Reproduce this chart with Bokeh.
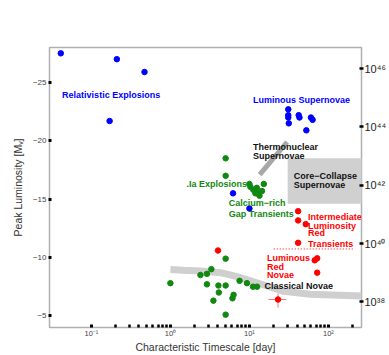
import math
from bokeh.plotting import figure
from bokeh.models import Range1d, LinearAxis, FixedTicker, ColumnDataSource, Label
from bokeh.core.properties import value
from bokeh.embed import file_html
from bokeh.resources import INLINE

# ---------------- data ----------------
rel_t = [0.041, 0.21, 0.47, 0.17]
rel_M = [-27.5, -27.0, -25.9, -21.7]

lum_t = [31, 31, 31, 31.5, 42, 43, 60, 63, 52.5]
lum_M = [-22.7, -22.2, -22.0, -21.5, -22.2, -22.0, -22.0, -21.8, -20.9]

ca_blue_t = [6.2, 10.0]
ca_blue_M = [-15.5, -14.2]

ia_t = [5.0, 5.0, 10.0, 10.3, 12.4, 15.2, 11.2, 14.4, 12.8, 13.4, 11.9]
ia_M = [-18.5, -17.0, -16.3, -16.05, -15.97, -16.3, -15.8, -15.7, -15.5, -15.3, -15.5]

nova_t = [1.0, 5.0, 2.4, 2.9, 3.3, 2.9, 4.05, 5.0, 4.1, 3.5, 6.1, 6.3, 5.0, 7.5, 9.3, 11.1, 12.5]
nova_M = [-7.8, -9.9, -8.5, -8.6, -9.0, -7.7, -7.6, -7.6, -7.0, -6.3, -6.5, -6.8, -5.1, -8.0, -7.8, -7.5, -7.5]

ilrt_t = [41.3, 41.3, 51.6, 41.3]
ilrt_M = [-13.97, -13.18, -12.86, -11.26]

lrn_t = [67, 72, 72, 4.0]
lrn_M = [-9.76, -9.93, -8.70, -10.6]

err_t = [23]
err_M = [-6.4]
err_t_lo = [17.4]
err_t_hi = [29.4]
err_M_lo = [-6.9]
err_M_hi = [-5.7]

ilrt_limit_t = [20.3, 203]
ilrt_limit_M = [-10.73, -10.73]

band_nova_t = [1.0, 1.46, 2.4, 4.3, 6.6, 10.3, 16, 27, 59, 263]
band_nova_M = [-8.97, -8.9, -8.85, -8.7, -8.4, -8.0, -7.6, -7.1, -6.85, -6.7]

band_thermo_t = [13.5, 30]
band_thermo_M = [-17.1, -19.9]

cc_t = [30.5, 300]
cc_M = [-18.5, -14.6]

y_ticks = [-25, -20, -15, -10, -5]
y_tick_labels = ["\u221225", "\u221220", "\u221215", "\u221210", "\u22125"]
x_ticks = [0.1, 1, 10, 100]
x_tick_labels = ["10\u207b\u00b9", "10\u2070", "10\u00b9", "10\u00b2"]
x_minor = [0.2, 0.3, 0.4, 0.5, 0.6, 0.7, 0.8, 0.9, 2, 3, 4, 5, 6, 7, 8, 9,
           20, 30, 40, 50, 60, 70, 80, 90, 200]
l_ticks = [38, 40, 42, 44, 46]
l_tick_labels = ["10\u00b3\u2078", "10\u2074\u2070", "10\u2074\u00b2", "10\u2074\u2074", "10\u2074\u2076"]

# label text and anchors
lab_text = ["Relativistic Explosions", "Luminous Supernovae", "Thermonuclear", "Supernovae",
            "Core\u2212Collapse", "Supernovae", ".Ia Explosions", "Calcium\u2212rich", "Gap Transients",
            "Intermediate", "Luminosity", "Red", "Transients", "Luminous", "Red", "Novae",
            "Classical Novae"]
lab_t = [0.0426, 11.1, 11.1, 11.1, 36.4, 36.4, 1.594, 5.47, 5.47,
         55.3, 55.3, 55.3, 55.3, 16.7, 16.7, 16.7, 15.5]
lab_M = [-23.9, -23.46, -19.47, -18.73, -16.97, -16.22, -16.34, -14.63, -13.69,
         -13.46, -12.74, -12.07, -11.15, -9.93, -9.21, -8.50, -7.58]
BLUE, GREEN, RED, BLACK = "#0000ff", "#118811", "#ff0000", "#111111"
lab_color = [BLUE, BLUE, BLACK, BLACK, BLACK, BLACK, GREEN, GREEN, GREEN,
             RED, RED, RED, RED, RED, RED, RED, BLACK]

# ---------------- figure ----------------
p = figure(width=389, height=355, x_axis_type="log",
           x_range=Range1d(0.0295, 262), y_range=Range1d(-4, -28),
           output_backend="svg", toolbar_location=None,
           min_border_top=47, min_border_left=49, min_border_right=28, min_border_bottom=27)
p.background_fill_color = "white"
p.border_fill_color = "white"
p.outline_line_color = "#b0b0b0"
p.outline_line_width = 1.5
p.grid.visible = False

# luminosity axis: log L = 38 - 0.4 (M + 6.2)
def mag_to_logL(m):
    return 38 - 0.4 * (m + 6.2)

p.extra_y_ranges = {"L": Range1d(mag_to_logL(-4), mag_to_logL(-28))}
rax = LinearAxis(y_range_name="L", ticker=FixedTicker(ticks=l_ticks),
                 major_label_overrides=dict(zip(l_ticks, l_tick_labels)))
rax.axis_line_color = None
rax.major_tick_in = 2
rax.major_tick_out = 2
rax.major_tick_line_width = 2.5
rax.major_tick_line_color = "black"
rax.minor_tick_line_color = None
rax.major_label_text_font = "Liberation Sans"
rax.major_label_text_font_size = "11px"
rax.major_label_text_color = "#222222"
rax.major_label_standoff = 1
p.add_layout(rax, "right")

xa = p.xaxis[0]
xa.ticker = FixedTicker(ticks=x_ticks, minor_ticks=x_minor)
xa.major_label_overrides = dict(zip(x_ticks, x_tick_labels))
xa.axis_line_color = None
xa.major_tick_in = 3
xa.major_tick_out = 0
xa.major_tick_line_width = 3
xa.major_tick_line_color = "black"
xa.minor_tick_in = 3
xa.minor_tick_out = 0
xa.minor_tick_line_width = 2.5
xa.minor_tick_line_color = "black"
xa.major_label_text_font = "Liberation Sans"
xa.major_label_text_font_size = "7.5px"
xa.major_label_text_color = "#444444"
xa.major_label_standoff = 1
xa.axis_label = "Characteristic Timescale [day]"
xa.axis_label_text_font = "Liberation Sans"
xa.axis_label_text_font_style = "normal"
xa.axis_label_text_font_size = "10.5px"
xa.axis_label_text_color = "#333333"
xa.axis_label_standoff = 0

ya = p.yaxis[0]
ya.ticker = FixedTicker(ticks=y_ticks)
ya.major_label_overrides = dict(zip(y_ticks, y_tick_labels))
ya.axis_line_color = None
ya.major_tick_in = 2
ya.major_tick_out = 1
ya.major_tick_line_width = 3
ya.major_tick_line_color = "black"
ya.minor_tick_line_color = None
ya.major_label_text_font = "Liberation Sans"
ya.major_label_text_font_size = "8px"
ya.major_label_text_color = "#444444"
ya.major_label_standoff = 2
ya.axis_label = "Peak Luminosity [M\u1d65]"
ya.axis_label_text_font = "Liberation Sans"
ya.axis_label_text_font_style = "normal"
ya.axis_label_text_font_size = "10.5px"
ya.axis_label_text_color = "#333333"
ya.axis_label_standoff = 6

# gray regions
p.quad(left=[cc_t[0]], right=[cc_t[1]], top=[cc_M[0]], bottom=[cc_M[1]],
       fill_color="#d0d0d0", line_color=None)
p.line(band_nova_t, band_nova_M, line_width=7, line_color="#cfcfcf", line_cap="butt")
p.line(band_thermo_t, band_thermo_M, line_width=5, line_color="#a8a8a8", line_cap="butt")

# dotted ILRT line and error bars
p.line(ilrt_limit_t, ilrt_limit_M, line_color=RED, line_dash="1 2", line_width=1)
p.segment(x0=err_t_lo, y0=err_M, x1=err_t_hi, y1=err_M, line_color="#ff7777", line_width=1)
p.segment(x0=err_t, y0=err_M_lo, x1=err_t, y1=err_M_hi, line_color="#ff7777", line_width=1)

# points
S = 5.5
p.scatter(rel_t, rel_M, size=S, color=BLUE)
p.scatter(lum_t, lum_M, size=S, color=BLUE)
p.scatter(ia_t, ia_M, size=S, color=GREEN)
p.scatter(nova_t, nova_M, size=S, color=GREEN)
p.scatter(ca_blue_t, ca_blue_M, size=S, color=BLUE)
p.scatter(ilrt_t, ilrt_M, size=S, color=RED)
p.scatter(lrn_t, lrn_M, size=S, color=RED)
p.scatter(err_t, err_M, size=S, color=RED)

# labels
src = ColumnDataSource(dict(x=lab_t, y=lab_M, text=lab_text, color=lab_color))
p.text(x="x", y="y", text="text", text_color="color", source=src,
       text_font=value("Liberation Sans"), text_font_style="bold",
       text_font_size="9px", text_align="left", text_baseline="middle")

# right-hand axis title in the right margin (overlay level, not clipped to the frame)
p.add_layout(Label(x=417, y=-16.2, text="Peak Luminosity [erg s\u207b\u00b9]", angle=math.pi / 2,
                   text_font="Liberation Sans", text_font_size="9px", level="overlay",
                   text_color="#333333", text_align="center", text_baseline="top"))

open("out.html", "w").write(file_html(p, INLINE))
